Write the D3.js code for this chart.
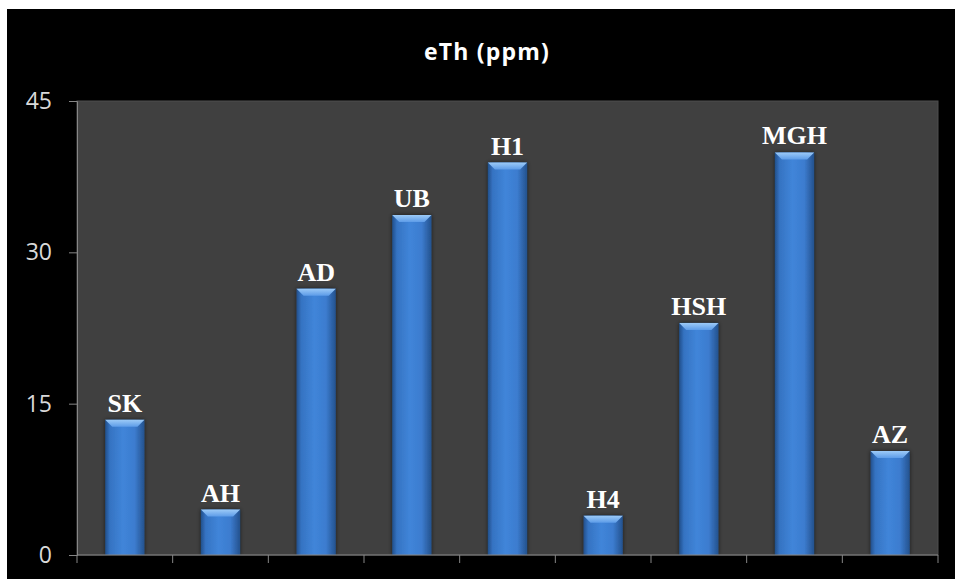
<!DOCTYPE html>
<html>
<head>
<meta charset="utf-8">
<script src="https://cdn.jsdelivr.net/npm/d3@7"></script>
<style>
  html, body { margin: 0; padding: 0; background: #ffffff; }
  svg { display: block; }
</style>
</head>
<body>
<svg id="chart" width="955" height="579"></svg>
<script>
// Equivalent thorium concentration per site
const categories = ["SK", "AH", "AD", "UB", "H1", "H4", "HSH", "MGH", "AZ"];
const values = [13.4, 4.5, 26.4, 33.7, 38.9, 3.9, 23.0, 39.9, 10.3];
const yTicks = [0, 15, 30, 45];
const title = "eTh (ppm)";

const W = 955, H = 579;
const frame = { x: 7, y: 9 };
const plot = { left: 77, top: 101, right: 938, bottom: 555 };

const svg = d3.select("#chart");

// Black chart frame
svg.append("rect")
  .attr("x", frame.x).attr("y", frame.y)
  .attr("width", W - frame.x).attr("height", H - frame.y)
  .attr("fill", "#000000");

const defs = svg.append("defs");
const grad = defs.append("linearGradient")
  .attr("id", "barGrad").attr("x1", "0").attr("x2", "1").attr("y1", "0").attr("y2", "0");
[["0%", "#22508c"], ["12%", "#3573c2"], ["45%", "#4085d9"], ["75%", "#3c7ccf"], ["100%", "#24528e"]]
  .forEach(([o, c]) => grad.append("stop").attr("offset", o).attr("stop-color", c));

const bevel = defs.append("linearGradient")
  .attr("id", "bevelGrad").attr("x1", "0").attr("x2", "0").attr("y1", "0").attr("y2", "1");
[["0%", "#9ccaf7"], ["100%", "#5d9ce8"]]
  .forEach(([o, c]) => bevel.append("stop").attr("offset", o).attr("stop-color", c));

const shadow = defs.append("filter").attr("id", "barShadow")
  .attr("x", "-30%").attr("y", "-10%").attr("width", "160%").attr("height", "120%");
shadow.append("feGaussianBlur").attr("in", "SourceAlpha").attr("stdDeviation", 2).attr("result", "b");
shadow.append("feComponentTransfer").attr("in", "b").attr("result", "s")
  .append("feFuncA").attr("type", "linear").attr("slope", 0.6);
const merge = shadow.append("feMerge");
merge.append("feMergeNode").attr("in", "s");
merge.append("feMergeNode").attr("in", "SourceGraphic");

// Plot area
svg.append("rect")
  .attr("x", plot.left).attr("y", plot.top)
  .attr("width", plot.right - plot.left).attr("height", plot.bottom - plot.top)
  .attr("fill", "#404040")
  .attr("stroke", "#4e4e4e").attr("stroke-width", 1);

const x = d3.scaleBand()
  .domain(categories)
  .range([plot.left, plot.right])
  .paddingInner(0.59)
  .paddingOuter(0.295);

const y = d3.scaleLinear()
  .domain([0, 45])
  .range([plot.bottom, plot.top]);

// Bars
const bars = svg.append("g").selectAll("g.bar")
  .data(categories.map((c, i) => ({ c, v: values[i] })))
  .join("g").attr("class", "bar");

bars.append("rect")
  .attr("x", d => x(d.c))
  .attr("y", d => y(d.v))
  .attr("width", x.bandwidth())
  .attr("height", d => y(0) - y(d.v))
  .attr("fill", "url(#barGrad)")
  .attr("filter", "url(#barShadow)");

// Bevelled top face
bars.append("path")
  .attr("d", d => {
    const x0 = x(d.c), x1 = x0 + x.bandwidth(), t = y(d.v), h = 7, i = 7;
    return `M${x0},${t}L${x1},${t}L${x1 - i},${t + h}L${x0 + i},${t + h}Z`;
  })
  .attr("fill", "url(#bevelGrad)");

bars.append("text")
  .attr("x", d => x(d.c) + x.bandwidth() / 2)
  .attr("y", d => y(d.v) - 8)
  .attr("text-anchor", "middle")
  .attr("font-family", "'Liberation Serif', 'Times New Roman', serif")
  .attr("font-weight", "bold")
  .attr("font-size", 26)
  .attr("fill", "#ffffff")
  .text(d => d.c);

// Y axis
const yAxis = svg.append("g")
  .attr("transform", `translate(${plot.left},0)`)
  .call(d3.axisLeft(y).tickValues(yTicks).tickSize(8).tickPadding(17));
yAxis.select(".domain").attr("stroke", "#868686");
yAxis.selectAll(".tick line").attr("stroke", "#868686");
yAxis.selectAll(".tick text")
  .attr("fill", "#d9d9d9")
  .attr("font-family", "'Open Sans', sans-serif")
  .attr("font-size", 23);

// X axis with boundary ticks between categories
const xBounds = d3.range(categories.length + 1).map(i => plot.left + i * x.step());
const xAxis = svg.append("g").attr("transform", `translate(0,${plot.bottom})`);
xAxis.append("line")
  .attr("x1", plot.left).attr("x2", plot.right)
  .attr("stroke", "#868686");
xAxis.selectAll("line.tick")
  .data(xBounds)
  .join("line").attr("class", "tick")
  .attr("x1", d => d).attr("x2", d => d)
  .attr("y1", 0).attr("y2", 8)
  .attr("stroke", "#868686");

// Title
svg.append("text")
  .attr("x", 487).attr("y", 60)
  .attr("text-anchor", "middle")
  .attr("font-family", "'Open Sans', sans-serif")
  .attr("font-weight", "bold")
  .attr("font-size", 23)
  .attr("letter-spacing", 1.2)
  .attr("fill", "#ffffff")
  .text(title);
</script>
</body>
</html>
